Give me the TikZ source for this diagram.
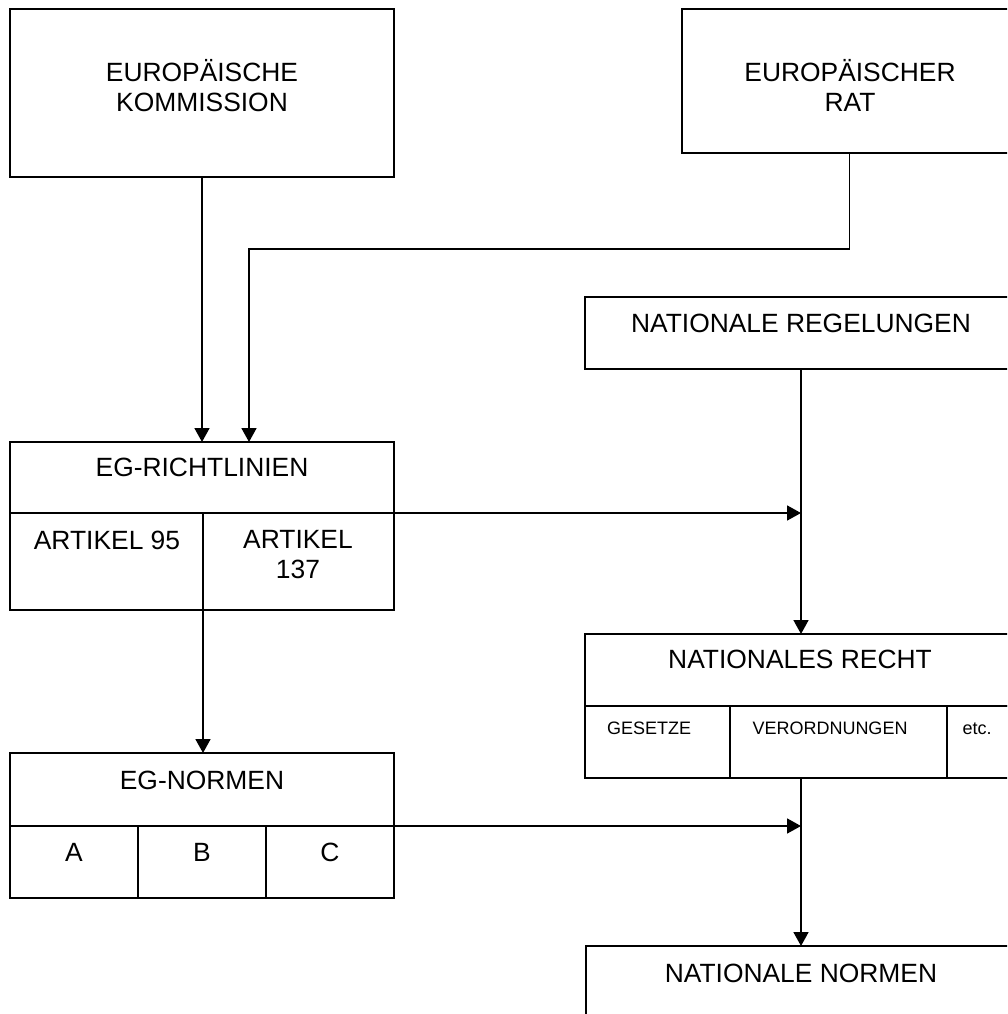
\documentclass[tikz,border=0pt]{standalone}
\usepackage{fontspec}
\setmainfont{Liberation Sans}
\usetikzlibrary{arrows.meta}
\begin{document}
\begin{tikzpicture}[x=1pt,y=-1pt,
  box/.style={draw, line width=1.7pt, rectangle, inner sep=0pt, outer sep=0pt, anchor=north west},
  big/.style={font=\fontsize{26.4}{30}\selectfont, inner sep=0pt, anchor=base, align=center},
  small/.style={font=\fontsize{18}{21}\selectfont, inner sep=0pt, anchor=base},
  conn/.style={line width=1.7pt},
  arr/.style={conn, -{Triangle[length=14pt,width=15pt]}}]
\useasboundingbox (0,0) rectangle (1007,1014);
\clip (0,0) rectangle (1007,1014);
% boxes
\node[box, minimum width=384pt, minimum height=168pt] (ek) at (10,9) {};
\node[box, minimum width=335pt, minimum height=144pt] (er) at (682,9) {};
\node[box, minimum width=432pt, minimum height=72pt] (nreg) at (585,297) {};
\node[box, minimum width=384pt, minimum height=71pt] (rlh) at (10,442) {};
\node[box, minimum width=193pt, minimum height=97pt] (rla) at (10,513) {};
\node[box, minimum width=191pt, minimum height=97pt] (rlb) at (203,513) {};
\node[box, minimum width=384pt, minimum height=73pt] (egh) at (10,753) {};
\node[box, minimum width=128pt, minimum height=72pt] (ega) at (10,826) {};
\node[box, minimum width=128pt, minimum height=72pt] (egb) at (138,826) {};
\node[box, minimum width=128pt, minimum height=72pt] (egc) at (266,826) {};
\node[box, minimum width=432pt, minimum height=72pt] (nrh) at (585,634) {};
\node[box, minimum width=145pt, minimum height=72pt] (nra) at (585,706) {};
\node[box, minimum width=217pt, minimum height=72pt] (nrb) at (730,706) {};
\node[box, minimum width=70pt, minimum height=72pt] (nrc) at (947,706) {};
\node[box, minimum width=431pt, minimum height=100pt] (nn) at (586,946) {};
% texts (base = baseline of the last line)
\node[big] (tek) at (202,112) {EUROPÄISCHE\\KOMMISSION};
\node[big] (ter) at (850,112) {EUROPÄISCHER\\RAT};
\node[big] (tnreg) at (801,332) {NATIONALE REGELUNGEN};
\node[big] (trlh) at (202,476) {EG-RICHTLINIEN};
\node[big] (trla) at (107,549) {ARTIKEL 95};
\node[big] (trlb) at (298,578) {ARTIKEL\\137};
\node[big] (tegh) at (202,789) {EG-NORMEN};
\node[big] (tega) at (74,861) {A};
\node[big] (tegb) at (202,861) {B};
\node[big] (tegc) at (330,861) {C};
\node[big] (tnrh) at (800,668) {NATIONALES RECHT};
\node[small] (tnra) at (649,734) {GESETZE};
\node[small] (tnrb) at (830,734) {VERORDNUNGEN};
\node[small] (tnrc) at (977,734) {etc.};
\node[big] (tnn) at (801,982) {NATIONALE NORMEN};
% connectors
\coordinate (bend) at (249,249);
\draw[arr] (ek.south) -- (ek.south |- rlh.north);
\draw[arr] (er.south) |- (bend) -- (bend |- rlh.north);
\draw[arr] (nreg.south) -- (nrh.north);
\draw[arr] (rlh.south east) -- (rlh.south east -| nrh.north);
\draw[arr] (rla.south east) -- (rla.south east |- egh.north);
\draw[arr] (egh.south east) -- (egh.south east -| nrh.south);
\draw[arr] (nrh.south |- nra.south) -- (nrh.south |- nn.north);
\end{tikzpicture}
\end{document}
